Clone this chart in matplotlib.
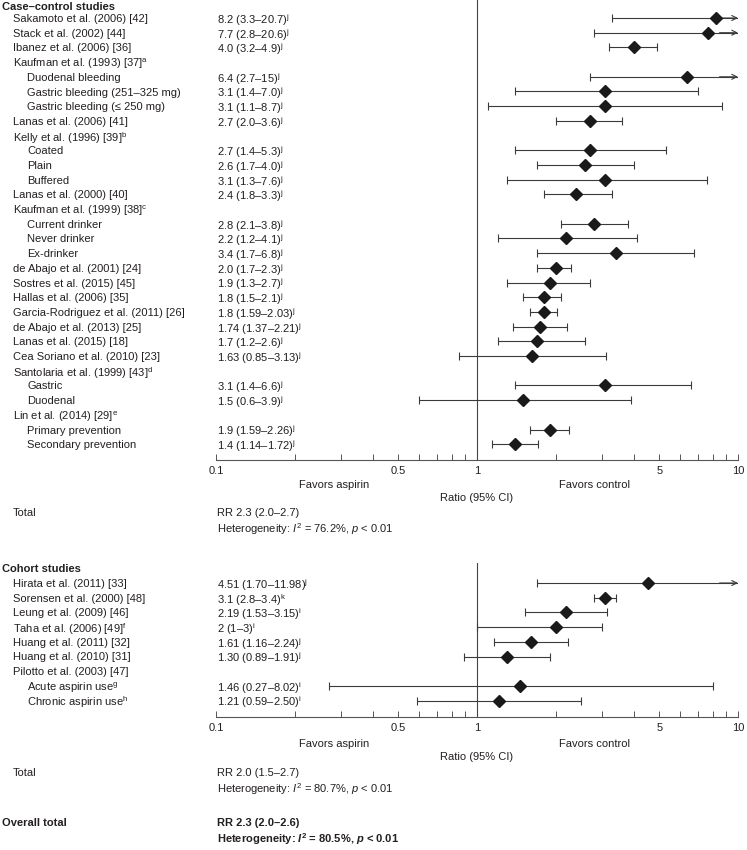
import matplotlib
matplotlib.use('Agg')
import matplotlib.pyplot as plt
import matplotlib.transforms as mtransforms
from matplotlib.ticker import FixedLocator, NullFormatter
import numpy as np

plt.rcParams['font.family'] = ['Liberation Sans', 'DejaVu Sans']
plt.rcParams['mathtext.fontset'] = 'custom'
plt.rcParams['mathtext.rm'] = 'Liberation Sans'
plt.rcParams['mathtext.it'] = 'Liberation Sans:italic'
plt.rcParams['mathtext.bf'] = 'Liberation Sans:bold'
plt.rcParams['mathtext.bfit'] = 'Liberation Sans:italic:bold'

#%% data
# case-control studies (level 0 = study, 1 = subgroup; nan = header row without estimate)
cc_names = ['Sakamoto et al. (2006) [42]', 'Stack et al. (2002) [44]', 'Ibanez et al. (2006) [36]',
            'Kaufman et al. (1993) [37]$^{\\mathrm{a}}$', 'Duodenal bleeding',
            'Gastric bleeding (251–325 mg)', 'Gastric bleeding (≤ 250 mg)',
            'Lanas et al. (2006) [41]', 'Kelly et al. (1996) [39]$^{\\mathrm{b}}$',
            'Coated', 'Plain', 'Buffered', 'Lanas et al. (2000) [40]',
            'Kaufman et al. (1999) [38]$^{\\mathrm{c}}$', 'Current drinker', 'Never drinker', 'Ex-drinker',
            'de Abajo et al. (2001) [24]', 'Sostres et al. (2015) [45]', 'Hallas et al. (2006) [35]',
            'Garcia-Rodriguez et al. (2011) [26]', 'de Abajo et al. (2013) [25]',
            'Lanas et al. (2015) [18]', 'Cea Soriano et al. (2010) [23]',
            'Santolaria et al. (1999) [43]$^{\\mathrm{d}}$', 'Gastric', 'Duodenal',
            'Lin et al. (2014) [29]$^{\\mathrm{e}}$', 'Primary prevention', 'Secondary prevention']
cc_level = [0, 0, 0, 0, 1, 1, 1, 0, 0, 1, 1, 1, 0, 0, 1, 1, 1, 0, 0, 0, 0, 0, 0, 0, 0, 1, 1, 0, 1, 1]
cc_rr = [8.2, 7.7, 4.0, np.nan, 6.4, 3.1, 3.1, 2.7, np.nan, 2.7, 2.6, 3.1, 2.4,
         np.nan, 2.8, 2.2, 3.4, 2.0, 1.9, 1.8, 1.8, 1.74, 1.7, 1.63, np.nan, 3.1, 1.5, np.nan, 1.9, 1.4]
cc_lo = [3.3, 2.8, 3.2, np.nan, 2.7, 1.4, 1.1, 2.0, np.nan, 1.4, 1.7, 1.3, 1.8,
         np.nan, 2.1, 1.2, 1.7, 1.7, 1.3, 1.5, 1.59, 1.37, 1.2, 0.85, np.nan, 1.4, 0.6, np.nan, 1.59, 1.14]
cc_hi = [20.7, 20.6, 4.9, np.nan, 15, 7.0, 8.7, 3.6, np.nan, 5.3, 4.0, 7.6, 3.3,
         np.nan, 3.8, 4.1, 6.8, 2.3, 2.7, 2.1, 2.03, 2.21, 2.6, 3.13, np.nan, 6.6, 3.9, np.nan, 2.26, 1.72]
cc_text = ['8.2 (3.3–20.7)', '7.7 (2.8–20.6)', '4.0 (3.2–4.9)', '', '6.4 (2.7–15)', '3.1 (1.4–7.0)',
           '3.1 (1.1–8.7)', '2.7 (2.0–3.6)', '', '2.7 (1.4–5.3)', '2.6 (1.7–4.0)', '3.1 (1.3–7.6)',
           '2.4 (1.8–3.3)', '', '2.8 (2.1–3.8)', '2.2 (1.2–4.1)', '3.4 (1.7–6.8)', '2.0 (1.7–2.3)',
           '1.9 (1.3–2.7)', '1.8 (1.5–2.1)', '1.8 (1.59–2.03)', '1.74 (1.37–2.21)', '1.7 (1.2–2.6)',
           '1.63 (0.85–3.13)', '', '3.1 (1.4–6.6)', '1.5 (0.6–3.9)', '', '1.9 (1.59–2.26)',
           '1.4 (1.14–1.72)']
cc_sup = ['j'] * 30

# cohort studies
co_names = ['Hirata et al. (2011) [33]', 'Sorensen et al. (2000) [48]', 'Leung et al. (2009) [46]',
            'Taha et al. (2006) [49]$^{\\mathrm{f}}$', 'Huang et al. (2011) [32]',
            'Huang et al. (2010) [31]', 'Pilotto et al. (2003) [47]',
            'Acute aspirin use$^{\\mathrm{g}}$', 'Chronic aspirin use$^{\\mathrm{h}}$']
co_level = [0, 0, 0, 0, 0, 0, 0, 1, 1]
co_rr = [4.51, 3.1, 2.19, 2, 1.61, 1.30, np.nan, 1.46, 1.21]
co_lo = [1.70, 2.8, 1.53, 1, 1.16, 0.89, np.nan, 0.27, 0.59]
co_hi = [11.98, 3.4, 3.15, 3, 2.24, 1.91, np.nan, 8.02, 2.50]
co_text = ['4.51 (1.70–11.98)', '3.1 (2.8–3.4)', '2.19 (1.53–3.15)', '2 (1–3)', '1.61 (1.16–2.24)',
           '1.30 (0.89–1.91)', '', '1.46 (0.27–8.02)', '1.21 (0.59–2.50)']
co_sup = ['j', 'k', 'i', 'i', 'j', 'j', '', 'i', 'i']

tick_vals = [0.1, 0.5, 1, 5, 10]
tick_labels = ['0.1', '0.5', '1', '5', '10']

cc_total = ['RR 2.3 (2.0–2.7)', 'Heterogeneity: $I^2$ = 76.2%, $p$ < 0.01']
co_total = ['RR 2.0 (1.5–2.7)', 'Heterogeneity: $I^2$ = 80.7%, $p$ < 0.01']
all_total = ['RR 2.3 (2.0–2.6)', 'Heterogeneity: $\\mathbfit{I}^{\\mathbf{2}}$ = 80.5%, $\\mathbfit{p}$ < 0.01']

#%% figure
W, H = 747, 850
fig = plt.figure(figsize=(W / 100, H / 100), dpi=100)
txt_c = '#231f20'
line_c = '#3a3a3a'
fs = 8
row_h = 14.7
x_head, x_name, x_sub, x_val = 2, 13, 27, 217
ax_l, ax_r = 216, 738
VA = 'center_baseline'


def make_axes(top_px, first_px, bottom_px):
    ax = fig.add_axes([ax_l / W, 1 - bottom_px / H, (ax_r - ax_l) / W, (bottom_px - top_px) / H])
    ax.set_xscale('log')
    ax.set_xlim(0.1, 10)
    ax.set_ylim((bottom_px - first_px) / row_h, (top_px - first_px) / row_h)
    for s in ['left', 'top', 'right']:
        ax.spines[s].set_visible(False)
    ax.spines['bottom'].set_color('#555555')
    ax.spines['bottom'].set_linewidth(0.8)
    ax.xaxis.set_major_locator(FixedLocator(tick_vals))
    ax.set_xticklabels(tick_labels)
    ax.xaxis.set_minor_locator(FixedLocator([0.2, 0.3, 0.4, 0.6, 0.7, 0.8, 0.9, 2, 3, 4, 6, 7, 8, 9]))
    ax.xaxis.set_minor_formatter(NullFormatter())
    ax.tick_params(axis='x', which='both', direction='in', length=4, width=0.7, color='#555555',
                   labelsize=fs, labelcolor=txt_c, pad=4)
    ax.set_yticks([])
    ax.axvline(1, color='#444444', lw=0.8)
    ax.patch.set_alpha(0)
    return ax


def forest(ax, names, level, rr, lo, hi, text, sup, header, head_row):
    tr = mtransforms.blended_transform_factory(fig.transFigure, ax.transData)
    ax.text(x_head / W, head_row, header, transform=tr, fontsize=fs, fontweight='bold', color=txt_c,
            va=VA, ha='left')
    for i in range(len(names)):
        x0 = x_sub if level[i] else x_name
        ax.text(x0 / W, i, names[i], transform=tr, fontsize=fs, color=txt_c, va=VA, ha='left')
        if np.isnan(rr[i]):
            continue
        ax.text(x_val / W, i, text[i] + '$^{\\mathrm{%s}}$' % sup[i], transform=tr, fontsize=fs,
                color=txt_c, va=VA, ha='left')
        l, h = max(lo[i], 0.1), min(hi[i], 10)
        ax.plot([l, h], [i, i], color=line_c, lw=0.8, solid_capstyle='butt')
        ax.plot([l], [i], marker='|', ms=6, mew=0.8, color=line_c)
        if hi[i] > 10:
            ax.annotate('', xy=(10, i), xytext=(8.5, i),
                        arrowprops=dict(arrowstyle='->', lw=0.8, color=line_c, shrinkA=0, shrinkB=0,
                                        mutation_scale=9), annotation_clip=False)
        else:
            ax.plot([h], [i], marker='|', ms=6, mew=0.8, color=line_c)
        ax.plot([rr[i]], [i], marker='D', ms=6.5, color='#1a1a1a', zorder=5)
    return tr


def footer(ax, tr, y_fav, y_ratio, y_tot, total):
    tra = mtransforms.blended_transform_factory(ax.transAxes, ax.transData)
    ax.text(0.226, y_fav, 'Favors aspirin', transform=tra, fontsize=fs, color=txt_c, ha='center', va=VA)
    ax.text(0.726, y_fav, 'Favors control', transform=tra, fontsize=fs, color=txt_c, ha='center', va=VA)
    ax.text(0.5, y_ratio, 'Ratio (95% CI)', transform=tra, fontsize=fs, color=txt_c, ha='center', va=VA)
    ax.text(x_name / W, y_tot, 'Total', transform=tr, fontsize=fs, color=txt_c, va=VA)
    ax.text(x_val / W, y_tot, total[0], transform=tr, fontsize=fs, color=txt_c, va=VA)
    ax.text(x_val / W, y_tot + 1, total[1], transform=tr, fontsize=fs, color=txt_c, va=VA)


ax1 = make_axes(0, 18, 460)
tr1 = forest(ax1, cc_names, cc_level, cc_rr, cc_lo, cc_hi, cc_text, cc_sup, 'Case–control studies', -0.8)
footer(ax1, tr1, (484 - 18) / row_h, (497 - 18) / row_h, (512 - 18) / row_h, cc_total)

ax2 = make_axes(563, 583, 717)
tr2 = forest(ax2, co_names, co_level, co_rr, co_lo, co_hi, co_text, co_sup, 'Cohort studies', -1)
footer(ax2, tr2, (743 - 583) / row_h, (756 - 583) / row_h, (772 - 583) / row_h, co_total)

y_all = (822 - 583) / row_h
ax2.text(x_head / W, y_all, 'Overall total', transform=tr2, fontsize=fs, fontweight='bold', color=txt_c, va=VA)
ax2.text(x_val / W, y_all, all_total[0], transform=tr2, fontsize=fs, fontweight='bold', color=txt_c, va=VA)
ax2.text(x_val / W, y_all + 1, all_total[1], transform=tr2, fontsize=fs, fontweight='bold', color=txt_c, va=VA)

fig.savefig('out.png', dpi=100)
